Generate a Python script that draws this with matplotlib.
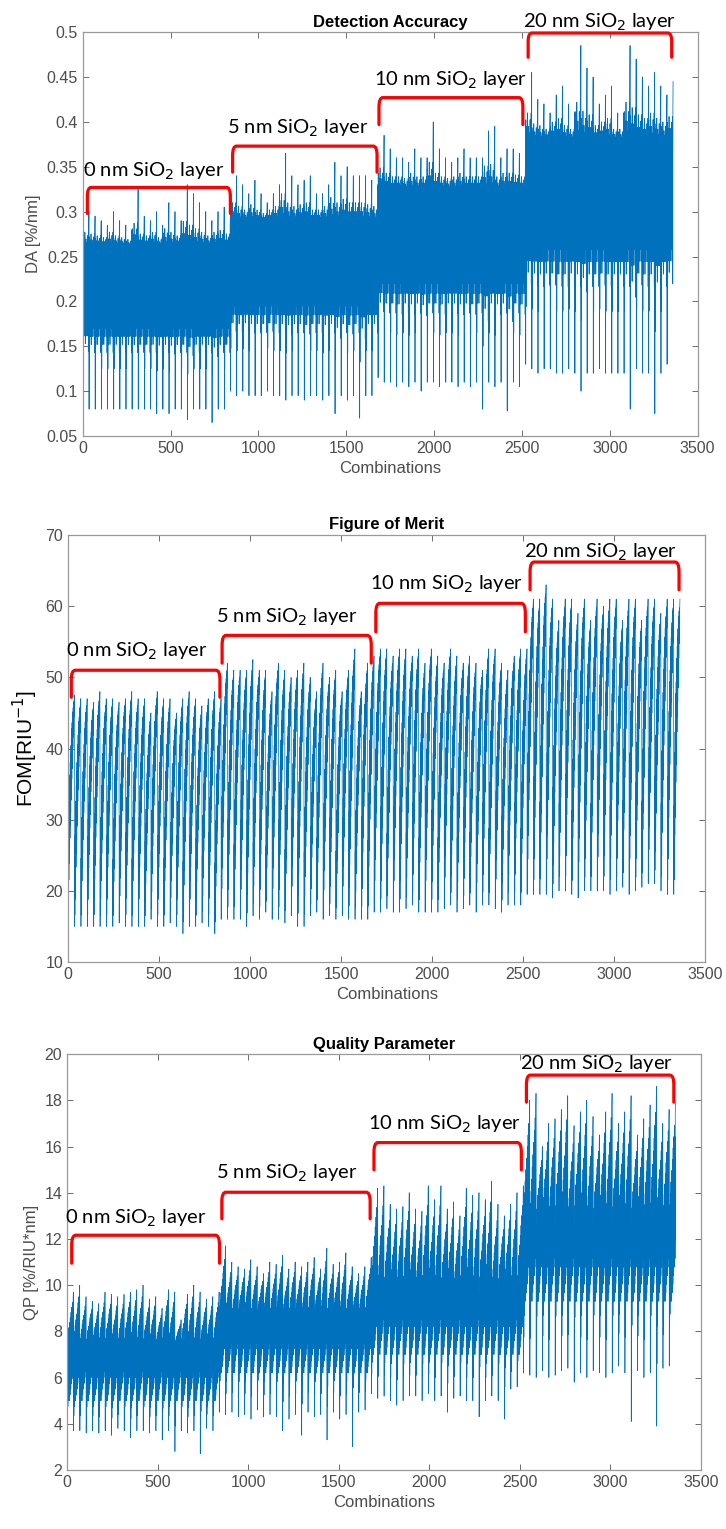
import numpy as np
import matplotlib
matplotlib.use("Agg")
import matplotlib.pyplot as plt
from matplotlib.path import Path
from matplotlib.patches import PathPatch
from matplotlib.ticker import FormatStrFormatter

# ==========================================
# Data
# 4 SiO2 layers x 24 cycles, 35 combinations per cycle
# ==========================================

LAYERS = ["0 nm SiO$_2$ layer", "5 nm SiO$_2$ layer",
          "10 nm SiO$_2$ layer", "20 nm SiO$_2$ layer"]

# Detection accuracy: cycle peaks / troughs, dense band per layer
DA_PEAKS = [
    0.30, 0.295, 0.29, 0.285, 0.30, 0.29, 0.285, 0.28, 0.325, 0.295, 0.29, 0.30,
    0.285, 0.31, 0.30, 0.29, 0.33, 0.32, 0.31, 0.30, 0.29, 0.30, 0.305, 0.295,
    0.34, 0.33, 0.32, 0.335, 0.32, 0.31, 0.32, 0.33, 0.365, 0.34, 0.33, 0.335,
    0.34, 0.32, 0.32, 0.33, 0.355, 0.34, 0.35, 0.34, 0.34, 0.34, 0.335, 0.33,
    0.385, 0.37, 0.36, 0.36, 0.355, 0.37, 0.36, 0.36, 0.40, 0.37, 0.36, 0.355,
    0.36, 0.37, 0.36, 0.36, 0.36, 0.39, 0.395, 0.36, 0.37, 0.37, 0.365, 0.36,
    0.455, 0.425, 0.42, 0.41, 0.43, 0.44, 0.42, 0.41, 0.485, 0.46, 0.45, 0.42,
    0.43, 0.44, 0.41, 0.41, 0.485, 0.47, 0.45, 0.44, 0.455, 0.44, 0.43, 0.445,
]
DA_TROUGHS = [
    0.085, 0.08, 0.08, 0.08, 0.08, 0.08, 0.08, 0.08, 0.08, 0.08, 0.08, 0.08,
    0.075, 0.08, 0.075, 0.08, 0.08, 0.068, 0.08, 0.08, 0.08, 0.065, 0.08, 0.08,
    0.10, 0.095, 0.10, 0.095, 0.095, 0.095, 0.10, 0.095, 0.095, 0.09, 0.095, 0.095,
    0.09, 0.095, 0.095, 0.09, 0.095, 0.075, 0.095, 0.09, 0.095, 0.07, 0.095, 0.095,
    0.115, 0.11, 0.11, 0.105, 0.11, 0.105, 0.11, 0.10, 0.11, 0.11, 0.105, 0.11,
    0.11, 0.105, 0.11, 0.105, 0.11, 0.08, 0.11, 0.105, 0.11, 0.078, 0.11, 0.105,
    0.13, 0.125, 0.12, 0.125, 0.125, 0.12, 0.12, 0.125, 0.12, 0.10, 0.12, 0.12,
    0.125, 0.12, 0.12, 0.12, 0.12, 0.08, 0.125, 0.12, 0.12, 0.075, 0.12, 0.13,
]
DA_BAND_LO = [0.170, 0.195, 0.220, 0.258]
DA_BAND_HI = [0.262, 0.290, 0.325, 0.380]

# Figure of merit: cycle peaks / troughs
FOM_PEAKS = [
    47.5, 47.0, 47.0, 46.5, 48.0, 47.0, 47.0, 46.5, 47.0, 48.0, 47.0, 47.0,
    45.0, 48.0, 47.0, 47.0, 45.0, 47.0, 48.0, 47.0, 46.0, 47.0, 48.0, 47.0,
    52.0, 51.0, 51.0, 51.0, 52.5, 51.0, 51.0, 48.0, 52.0, 51.0, 50.0, 51.0,
    52.0, 50.0, 48.0, 52.0, 50.0, 51.0, 48.0, 51.0, 54.0, 48.0, 52.0, 53.0,
    54.0, 54.0, 53.0, 54.0, 54.0, 53.0, 54.0, 52.0, 54.0, 53.0, 52.0, 54.0,
    53.0, 52.0, 53.0, 52.0, 51.0, 54.0, 54.0, 52.0, 51.0, 53.0, 54.0, 54.0,
    61.0, 61.0, 63.0, 61.0, 58.0, 61.0, 61.0, 59.0, 61.0, 58.0, 61.0, 60.0,
    61.0, 61.0, 58.0, 61.0, 61.0, 58.0, 61.0, 61.0, 59.0, 61.0, 61.0, 61.0,
]
FOM_TROUGHS = [
    18.0, 15.0, 15.0, 15.0, 15.0, 15.0, 15.0, 15.0, 15.5, 15.0, 15.0, 15.0,
    15.0, 16.0, 15.0, 15.0, 15.5, 15.0, 14.0, 15.0, 15.0, 15.5, 15.0, 14.0,
    16.0, 16.0, 16.0, 16.0, 15.0, 16.5, 16.0, 17.0, 16.0, 16.0, 15.5, 16.5,
    15.0, 15.0, 16.5, 17.0, 16.0, 16.5, 16.0, 16.5, 16.0, 16.0, 16.0, 16.0,
    17.0, 17.0, 17.5, 17.0, 17.0, 17.5, 18.0, 17.0, 17.0, 17.0, 17.0, 17.5,
    18.0, 17.0, 17.5, 18.0, 17.0, 18.0, 18.0, 17.5, 17.0, 18.0, 18.0, 18.0,
    19.5, 19.5, 19.5, 19.5, 19.0, 20.0, 20.0, 19.5, 19.0, 20.0, 20.0, 20.0,
    20.0, 19.5, 20.0, 20.5, 19.5, 20.0, 20.5, 21.0, 21.0, 20.0, 19.5, 19.5,
]

# Quality parameter: cycle peaks / troughs, dense band per layer
QP_PEAKS = [
    9.7, 10.0, 9.5, 9.3, 9.2, 9.7, 9.6, 9.5, 9.6, 9.7, 9.8, 10.0,
    9.4, 9.5, 9.0, 9.8, 9.7, 8.5, 9.6, 10.0, 9.7, 9.4, 9.5, 9.7,
    11.7, 11.0, 10.8, 10.7, 11.1, 10.8, 10.5, 11.0, 10.9, 11.3, 10.7, 11.0,
    10.8, 11.0, 11.2, 10.7, 11.6, 10.9, 11.0, 11.4, 10.8, 10.5, 10.8, 11.2,
    14.2, 14.3, 13.5, 13.3, 13.4, 14.0, 13.3, 13.2, 14.3, 13.7, 14.3, 13.3,
    13.6, 13.0, 14.2, 13.9, 14.0, 13.7, 14.5, 13.5, 13.0, 13.5, 14.0, 14.3,
    18.0, 18.3, 16.0, 17.0, 17.2, 17.6, 18.2, 16.9, 17.5, 18.0, 17.3, 16.5,
    17.5, 18.3, 17.0, 17.5, 18.2, 16.5, 17.2, 17.8, 18.6, 17.0, 17.6, 17.9,
]
QP_TROUGHS = [
    3.8, 3.7, 3.7, 3.6, 3.7, 3.6, 3.7, 3.5, 3.8, 3.7, 3.4, 3.7,
    3.7, 3.6, 3.7, 3.3, 3.7, 2.8, 3.7, 3.6, 3.7, 2.7, 3.8, 3.7,
    4.5, 4.4, 4.5, 4.3, 4.4, 4.2, 4.6, 4.3, 4.4, 4.3, 3.7, 4.2,
    4.4, 3.5, 4.5, 4.3, 4.4, 3.3, 4.5, 4.2, 4.4, 3.0, 4.5, 4.6,
    5.3, 5.1, 5.2, 5.0, 4.8, 5.0, 5.2, 5.2, 5.0, 5.3, 5.0, 5.2,
    4.5, 5.1, 5.2, 5.0, 5.0, 4.3, 5.0, 5.2, 5.0, 4.2, 5.5, 5.6,
    6.2, 6.1, 6.0, 6.3, 6.0, 6.1, 6.3, 6.4, 5.8, 6.2, 6.0, 6.3,
    6.2, 6.0, 6.2, 6.5, 6.2, 4.1, 6.3, 6.0, 6.2, 3.9, 6.4, 6.5,
]
QP_BAND_LO = [5.0, 6.2, 7.0, 9.3]
QP_BAND_HI = [7.5, 8.8, 10.0, 13.0]

# shape of one cycle
# -1 trough, 0 band low, 1 band high, 2 peak
DA_SHAPE = [-1.0, 1.3, -0.5, 1.0, -0.2, 1.2, 0.0, 0.9, -0.1, 1.1, 0.1, 1.4,
            0.0, 0.9, -0.2, 1.0, 0.1, 1.2, 0.0, 0.9, -0.1, 1.1, 0.2, 1.0,
            0.0, 1.3, 0.1, 1.0, -0.1, 1.2, 0.0, 1.4, -0.3, 1.6, 2.0]
QP_SHAPE = [-1.0, 0.6, -0.5, 0.9, -0.2, 1.1, 0.0, 1.2, 0.1, 1.3, 0.2, 1.2,
            0.0, 1.4, 0.3, 1.3, 0.1, 1.5, 0.4, 1.4, 0.2, 1.6, 0.5, 1.5,
            0.3, 1.7, 0.6, 1.6, 0.4, 1.8, 0.7, 1.7, 0.5, 1.9, 2.0]
# 0 trough, 1 peak
FOM_SHAPE = [0.0, 0.30, 0.05, 0.40, 0.12, 0.48, 0.20, 0.55, 0.26, 0.62, 0.32, 0.68,
             0.38, 0.72, 0.44, 0.76, 0.50, 0.80, 0.55, 0.84, 0.60, 0.87, 0.65, 0.90,
             0.70, 0.92, 0.75, 0.94, 0.80, 0.96, 0.85, 0.97, 0.90, 0.98, 1.0]

# bracket annotations per panel: x start, x end, top, leg end, label x, label y
DA_BR_X0 = [26, 853, 1686, 2535]
DA_BR_X1 = [840, 1675, 2505, 3352]
DA_BR_TOP = [0.327, 0.373, 0.427, 0.499]
DA_BR_END = [0.298, 0.344, 0.397, 0.472]
DA_LAB_X = [0, 820, 1660, 2508]
DA_LAB_Y = [0.345, 0.393, 0.446, 0.511]

FOM_BR_X0 = [18, 846, 1690, 2537]
FOM_BR_X1 = [834, 1665, 2511, 3355]
FOM_BR_TOP = [51.0, 55.9, 60.4, 66.2]
FOM_BR_END = [47.2, 52.0, 56.4, 62.3]
FOM_LAB_X = [-13, 813, 1657, 2504]
FOM_LAB_Y = [53.6, 58.4, 63.0, 67.6]

QP_BR_X0 = [26, 855, 1695, 2537]
QP_BR_X1 = [842, 1674, 2509, 3351]
QP_BR_TOP = [12.16, 14.02, 16.17, 19.09]
QP_BR_END = [10.95, 12.87, 14.99, 17.92]
QP_LAB_X = [-13, 822, 1661, 2504]
QP_LAB_Y = [12.9, 14.85, 16.97, 19.54]

# ==========================================
# Build traces
# ==========================================

def band_curve(peaks, troughs, lo, hi, shape):
    vals = []
    for c in range(len(peaks)):
        k = c // 24
        for s in shape:
            if s < 0:
                vals.append(lo[k] + s * (lo[k] - troughs[c]))
            elif s <= 1:
                vals.append(lo[k] + s * (hi[k] - lo[k]))
            else:
                vals.append(hi[k] + (s - 1) * (peaks[c] - hi[k]))
    return np.array(vals)


def ramp_curve(peaks, troughs, shape):
    vals = []
    for c in range(len(peaks)):
        for s in shape:
            vals.append(troughs[c] + s * (peaks[c] - troughs[c]))
    return np.array(vals)


da = band_curve(DA_PEAKS, DA_TROUGHS, DA_BAND_LO, DA_BAND_HI, DA_SHAPE)
fom = ramp_curve(FOM_PEAKS, FOM_TROUGHS, FOM_SHAPE)
qp = band_curve(QP_PEAKS, QP_TROUGHS, QP_BAND_LO, QP_BAND_HI, QP_SHAPE)
comb = np.arange(1, len(da) + 1)

# ==========================================
# Plot
# ==========================================

plt.rcParams["font.family"] = ["Liberation Sans", "DejaVu Sans"]

LINE_COLOR = "#0072BD"
TXT_COLOR = "#4d4d4d"


def draw_bracket(ax, x0, x1, top, end):
    h = top - end
    dx = 22
    verts = [(x0, end), (x0, top - 0.35 * h), (x0, top), (x0 + dx, top),
             (x1 - dx, top), (x1, top), (x1, top - 0.35 * h), (x1, end)]
    codes = [Path.MOVETO, Path.LINETO, Path.CURVE3, Path.CURVE3,
             Path.LINETO, Path.CURVE3, Path.CURVE3, Path.LINETO]
    ax.add_patch(PathPatch(Path(verts, codes), fill=False, edgecolor="#ff0000",
                           lw=2.3, clip_on=False, zorder=5, capstyle="round"))


def style_axes(ax, yticks, fmt):
    ax.set_xlim(0, 3500)
    ax.set_xticks(np.arange(0, 3501, 500))
    ax.set_ylim(yticks[0], yticks[-1])
    ax.set_yticks(yticks)
    ax.yaxis.set_major_formatter(FormatStrFormatter(fmt))
    ax.tick_params(direction="in", top=True, right=True, length=4, width=0.6,
                   color="#555555", labelcolor=TXT_COLOR, labelsize=11.5)
    for sp in ax.spines.values():
        sp.set_color("#999999")
        sp.set_linewidth(0.9)


def annotate(ax, x0s, x1s, tops, ends, lxs, lys):
    for i in range(4):
        draw_bracket(ax, x0s[i], x1s[i], tops[i], ends[i])
        ax.text(lxs[i], lys[i], LAYERS[i], family=["Lato", "DejaVu Sans"],
                fontsize=14.5, color="black", ha="left", va="center", zorder=6)


fig = plt.figure(figsize=(7.26, 15.29), dpi=100)

# --- Detection accuracy
ax1 = fig.add_axes([0.114, 0.7148, 0.847, 0.2642])
ax1.plot(comb, da, color=LINE_COLOR, lw=0.55)
style_axes(ax1, np.round(np.arange(0.05, 0.501, 0.05), 2), "%g")
ax1.set_title("Detection Accuracy", fontsize=12, fontweight="bold", pad=4)
ax1.set_xlabel("Combinations", fontsize=12, color=TXT_COLOR)
ax1.set_ylabel("DA [%/nm]", fontsize=12, color=TXT_COLOR)
annotate(ax1, DA_BR_X0, DA_BR_X1, DA_BR_TOP, DA_BR_END, DA_LAB_X, DA_LAB_Y)

# --- Figure of merit
ax2 = fig.add_axes([0.0937, 0.3708, 0.878, 0.2793])
ax2.plot(comb, fom, color=LINE_COLOR, lw=0.5)
style_axes(ax2, np.arange(10, 71, 10), "%g")
ax2.set_title("Figure of Merit", fontsize=12, fontweight="bold", pad=4)
ax2.set_xlabel("Combinations", fontsize=12, color=TXT_COLOR)
ax2.set_ylabel("FOM[RIU$^{-1}$]", fontsize=15, color="black")
annotate(ax2, FOM_BR_X0, FOM_BR_X1, FOM_BR_TOP, FOM_BR_END, FOM_LAB_X, FOM_LAB_Y)

# --- Quality parameter
ax3 = fig.add_axes([0.0923, 0.0386, 0.873, 0.272])
ax3.plot(comb, qp, color=LINE_COLOR, lw=0.5)
style_axes(ax3, np.arange(2, 21, 2), "%g")
ax3.set_title("Quality Parameter", fontsize=12, fontweight="bold", pad=4)
ax3.set_xlabel("Combinations", fontsize=12, color=TXT_COLOR)
ax3.set_ylabel("QP [%/RIU*nm]", fontsize=12, color=TXT_COLOR)
annotate(ax3, QP_BR_X0, QP_BR_X1, QP_BR_TOP, QP_BR_END, QP_LAB_X, QP_LAB_Y)

fig.savefig("out.png", dpi=100)
